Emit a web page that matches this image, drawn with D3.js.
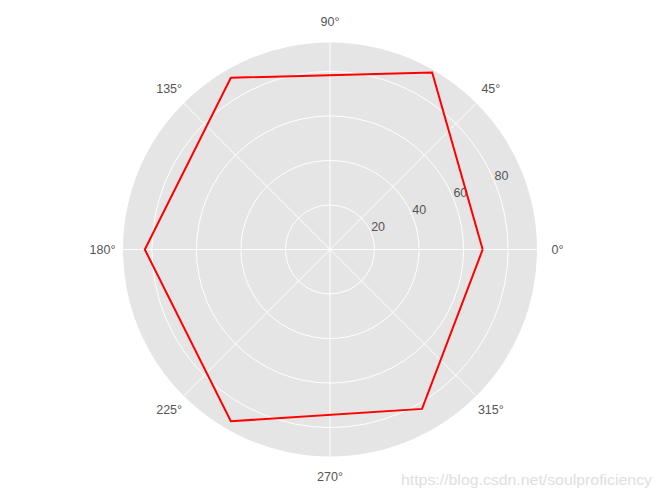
<!DOCTYPE html>
<html>
<head>
<meta charset="utf-8">
<script src="https://cdn.jsdelivr.net/npm/d3@7"></script>
<style>
    body { margin: 0; background: #fff; }
    svg { display: block; }
</style>
</head>
<body>
<div class="chart-holder"></div>
<script>
(function () {

    'use strict';

    // data
    var thetaDegrees = [0, 60, 120, 180, 240, 300];
    var radiusValues = [68.6, 91.8, 89.1, 83.2, 89.1, 82.7];

    var radialTicks = [20, 40, 60, 80];
    var thetaTicks = [0, 45, 90, 135, 180, 225, 270, 315];
    var watermarkText = 'https://blog.csdn.net/soulproficiency';

    var width = 660;
    var height = 499;
    var cx = 330;
    var cy = 249.5;
    var outerRadius = 207;

    var labelFont = '"Liberation Sans", Arial, sans-serif';

    var svg = d3.select('.chart-holder')
        .append('svg')
        .attr('width', width)
        .attr('height', height);

    var g = svg.append('g')
        .attr('transform', 'translate(' + cx + ',' + cy + ')');

    var r = d3.scaleLinear()
        .domain([0, 93])
        .range([0, outerRadius]);

    var toRad = function (deg) {
        return deg * Math.PI / 180;
    };

    // background disc
    g.append('circle')
        .attr('r', outerRadius)
        .attr('fill', '#e5e5e5');

    // radial rings
    g.selectAll('.ring')
        .data(radialTicks)
        .enter()
        .append('circle')
        .attr('class', 'ring')
        .attr('r', function (d) { return r(d); })
        .attr('fill', 'none')
        .attr('stroke', '#fff')
        .attr('stroke-width', 1);

    // angular grid lines
    g.selectAll('.spoke')
        .data(thetaTicks)
        .enter()
        .append('line')
        .attr('class', 'spoke')
        .attr('x1', 0)
        .attr('y1', 0)
        .attr('x2', function (d) { return outerRadius * Math.cos(toRad(d)); })
        .attr('y2', function (d) { return -outerRadius * Math.sin(toRad(d)); })
        .attr('stroke', '#fff')
        .attr('stroke-width', 1);

    // radial tick labels at 22.5 deg
    var rLabelAngle = toRad(22.5);
    g.selectAll('.rlabel')
        .data(radialTicks)
        .enter()
        .append('text')
        .attr('class', 'rlabel')
        .attr('x', function (d) { return r(d) * Math.cos(rLabelAngle); })
        .attr('y', function (d) { return -r(d) * Math.sin(rLabelAngle); })
        .attr('dy', -1)
        .attr('text-anchor', 'start')
        .attr('font-family', labelFont)
        .attr('font-size', 12.5)
        .attr('fill', '#555')
        .text(function (d) { return d; });

    // angle labels
    var thetaLabelRadius = 227.5;
    g.selectAll('.tlabel')
        .data(thetaTicks)
        .enter()
        .append('text')
        .attr('class', 'tlabel')
        .attr('x', function (d) { return thetaLabelRadius * Math.cos(toRad(d)); })
        .attr('y', function (d) { return -thetaLabelRadius * Math.sin(toRad(d)); })
        .attr('text-anchor', 'middle')
        .attr('dominant-baseline', 'central')
        .attr('font-family', labelFont)
        .attr('font-size', 12.5)
        .attr('fill', '#555')
        .text(function (d) { return d + '\u00b0'; });

    // the closed red line
    var points = thetaDegrees.map(function (t, i) {
        return [toRad(90 - t), r(radiusValues[i])];
    });
    points.push(points[0]);

    var line = d3.lineRadial()
        .angle(function (d) { return d[0]; })
        .radius(function (d) { return d[1]; });

    g.append('path')
        .attr('d', line(points))
        .attr('fill', 'none')
        .attr('stroke', '#ff0000')
        .attr('stroke-width', 2)
        .attr('stroke-linejoin', 'miter');

    // watermark
    svg.append('text')
        .attr('x', 401)
        .attr('y', 485)
        .attr('text-anchor', 'start')
        .attr('textLength', 251)
        .attr('lengthAdjust', 'spacingAndGlyphs')
        .attr('font-family', labelFont)
        .attr('font-size', 15)
        .attr('fill', '#e0e0e0')
        .text(watermarkText);

}());
</script>
</body>
</html>
